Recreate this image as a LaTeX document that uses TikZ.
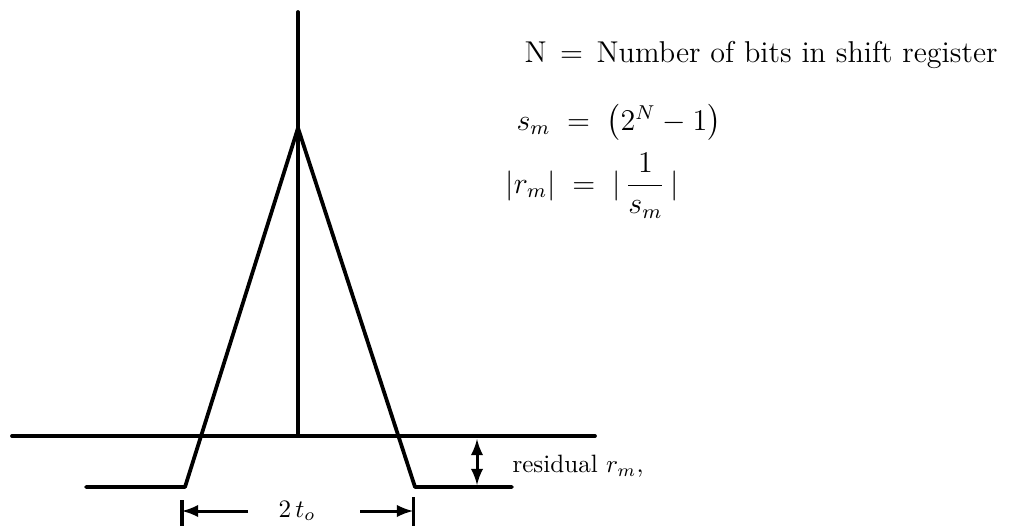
\documentclass[tikz,border=0pt]{standalone}
\usepackage{amsmath,amssymb}
\usepackage{tikz}
\usetikzlibrary{arrows,positioning,calc}

\begin{document}
\begin{tikzpicture}[
  x=0.014cm, y=-0.014cm,
  pulseline/.style={line width=1.5pt, line cap=round, line join=round},
  tickline/.style={line width=1.2pt},
  dimarrow/.style={-latex, line width=1.2pt},
  notetext/.style={anchor=base west, inner sep=0pt}
]
  \useasboundingbox (0,0) rectangle (1021,526);

  % Pulse shape
  \coordinate (top) at (298,12);
  \coordinate (peak) at (298,128);
  \coordinate (mid) at (298,436);
  \coordinate (bl) at (12,436);
  \coordinate (br) at (595,436);
  \coordinate (lend) at (86,487);
  \coordinate (lfoot) at (185,487);
  \coordinate (rfoot) at (415,487);
  \coordinate (rend) at (512,487);
  \draw[pulseline] (top) -- (mid);
  \draw[pulseline] (bl) -- (br);
  \draw[pulseline] (lend) -- (lfoot) -- (peak) -- (rfoot) -- (rend);

  % Residual
  \coordinate (rtop) at (477,439);
  \coordinate (rbot) at (477,485);
  \draw[latex-latex, line width=1.2pt] (rtop) -- (rbot);
  \node[anchor=west, inner sep=0pt] (res) at (512,466) {residual $r_m$,};

  % Width 2 t_o
  \coordinate (lt1) at (182,500);
  \coordinate (lt2) at (182,526);
  \coordinate (rt1) at (413,497);
  \coordinate (rt2) at (413,526);
  \draw[tickline] (lt1) -- (lt2);
  \draw[tickline] (rt1) -- (rt2);
  \node (width) at (297,511) {$2\,t_{o}$};
  \coordinate (la) at (248,511);
  \coordinate (ra) at (360,511);
  \draw[dimarrow] (la) -- (lt1 |- width);
  \draw[dimarrow] (ra) -- (rt1 |- width);

  % Definitions
  \node[notetext, font=\large] (defn) at (524,63) {N\hspace{0.45em}=\hspace{0.45em}Number of bits in shift register};
  \node[notetext, font=\large] (defs) at (516,130) {$s_m \;=\; \bigl(2^N - 1\bigr)$};
  \node[anchor=west, inner sep=0pt, font=\large] (defr) at (505,186) {$|r_m| \;=\; |\,\dfrac{1}{s_m}\,|$};
\end{tikzpicture}
\end{document}
